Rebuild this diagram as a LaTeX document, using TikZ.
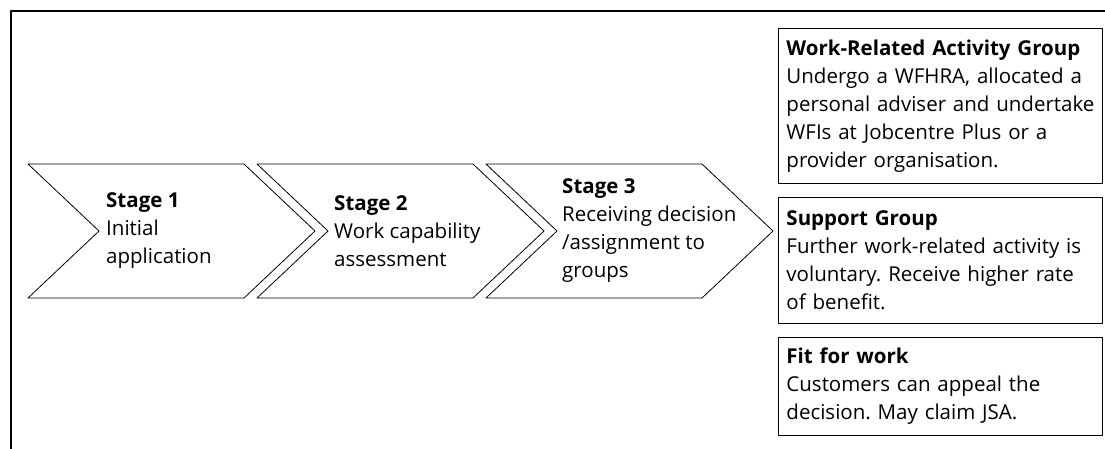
\documentclass[tikz,border=0pt]{standalone}
\usepackage{fontspec}
\setmainfont{Open Sans}
\usetikzlibrary{calc,positioning}
\frenchspacing

\tikzset{stagetext/.style={anchor=west,inner sep=0pt,align=left,
                font=\fontsize{20.5}{28}\selectfont},
         groupbox/.style={draw,line width=0.9pt,anchor=north west,inner xsep=8pt,inner ysep=0pt,
                text width=308pt,align=left,font=\fontsize{20.5}{28}\selectfont}}

\begin{document}
\begin{tikzpicture}[x=1pt,y=-1pt,line cap=round,line join=round]
            \useasboundingbox (0,0) rectangle (1105,448);
            \draw [line width=2.6pt] (11,11) -- (1115,11) (11,11) -- (11,460);
            \path foreach \X in {1,2,3}
            {({28+229*(\X-1)},164) coordinate (c\X)};
            \foreach \X in {1,2,3}
            {\draw [line width=0.8pt] (c\X) -- ++(216,0) -- ++(71,67) -- ++(-71,67) -- ++(-216,0) -- ++(71,-67) -- cycle;}

            \node (s1) [stagetext] at ($(c1)+(78,67)$) {\textbf{Stage 1}\\Initial\\application};
            \node (s2) [stagetext] at ($(c2)+(77,67)$) {\textbf{Stage 2}\\Work capability\\assessment};
            \node (s3) [stagetext] at ($(c3)+(76,67)$) {\textbf{Stage 3}\\Receiving decision\\/assignment to\\groups};

            \node (wrag) [groupbox,minimum height=155pt] at (778,28)
                {\textbf{Work-Related Activity Group}\\Undergo a WFHRA, allocated a\\personal adviser and undertake\\WFIs at Jobcentre Plus or a\\provider organisation.};
            \node (sg) [groupbox,minimum height=126pt] at (778,197)
                {\textbf{Support Group}\\Further work-related activity is\\voluntary. Receive higher rate\\of benefit.};
            \node (fit) [groupbox,minimum height=98pt] at (778,337)
                {\textbf{Fit for work}\\Customers can appeal the\\decision. May claim JSA.};
        \end{tikzpicture}
\end{document}
